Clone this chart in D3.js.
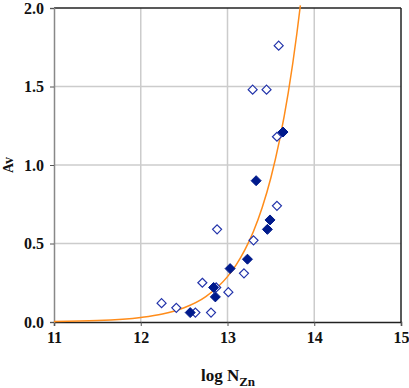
<!DOCTYPE html>
<html>
<head>
<meta charset="utf-8">
<script src="https://cdn.jsdelivr.net/npm/d3@7"></script>
<style>
  body { margin: 0; background: #fff; }
  text { font-family: "Liberation Serif", "Times New Roman", serif; }
</style>
</head>
<body>
<svg id="chart" width="409" height="388"></svg>
<script>
// open diamonds
var v_OpenX = [12.24, 12.41, 12.63, 12.81, 12.71, 12.87, 13.01, 12.88, 13.19, 13.30, 13.57, 13.29, 13.45, 13.59, 13.57];
var v_OpenY = [0.12, 0.09, 0.06, 0.06, 0.25, 0.22, 0.19, 0.59, 0.31, 0.52, 0.74, 1.48, 1.48, 1.76, 1.18];

// filled diamonds
var v_FillX = [12.57, 12.84, 12.86, 13.03, 13.23, 13.46, 13.49, 13.33, 13.64];
var v_FillY = [0.06, 0.22, 0.16, 0.34, 0.40, 0.59, 0.65, 0.90, 1.21];

// fitted curve
var v_CurveX = [11.0, 11.5, 12.0, 12.25, 12.5, 12.75, 13.0, 13.1, 13.2, 13.3, 13.4, 13.5, 13.6, 13.7, 13.8, 13.84];
var v_CurveY = [0.003, 0.009, 0.029, 0.051, 0.091, 0.162, 0.289, 0.364, 0.459, 0.578, 0.729, 0.919, 1.158, 1.459, 1.839, 2.017];

var v_XTicks = [11, 12, 13, 14, 15];
var v_YTicks = [0, 0.5, 1.0, 1.5, 2.0];

var v_SVG = d3.select("#chart");
var v_Left = 54, v_Right = 401, v_Top = 8, v_Bottom = 322;

var x = d3.scaleLinear().domain([11, 15]).range([v_Left, v_Right]);
var y = d3.scaleLinear().domain([0, 2]).range([v_Bottom, v_Top]);

// gridlines
v_SVG.append("g").selectAll("line").data(v_XTicks.slice(1, -1)).join("line")
    .attr("x1", d => x(d)).attr("x2", d => x(d))
    .attr("y1", v_Top).attr("y2", v_Bottom)
    .attr("stroke", "#cccccc").attr("stroke-width", 1.5);
v_SVG.append("g").selectAll("line").data(v_YTicks.slice(1, -1)).join("line")
    .attr("x1", v_Left).attr("x2", v_Right)
    .attr("y1", d => y(d)).attr("y2", d => y(d))
    .attr("stroke", "#cccccc").attr("stroke-width", 1.5);

// frame
v_SVG.append("line").attr("x1", v_Left).attr("x2", v_Right).attr("y1", v_Top).attr("y2", v_Top)
    .attr("stroke", "#222").attr("stroke-width", 1.5);
v_SVG.append("line").attr("x1", v_Right).attr("x2", v_Right).attr("y1", v_Top).attr("y2", v_Bottom)
    .attr("stroke", "#222").attr("stroke-width", 1.5);

// axes
var v_XAxis = v_SVG.append("g").attr("transform", "translate(0," + v_Bottom + ")")
    .call(d3.axisBottom(x).tickValues(v_XTicks).tickFormat(d3.format("d")).tickSize(4).tickPadding(6));
var v_YAxis = v_SVG.append("g").attr("transform", "translate(" + v_Left + ",0)")
    .call(d3.axisLeft(y).tickValues(v_YTicks).tickFormat(d3.format(".1f")).tickSize(4).tickPadding(6));
v_XAxis.select(".domain").attr("stroke", "#222").attr("stroke-width", 1.5);
v_YAxis.select(".domain").attr("stroke", "#888").attr("stroke-width", 1.5);
v_XAxis.selectAll(".tick line").attr("stroke", "#555");
v_YAxis.selectAll(".tick line").attr("stroke", "#555");
v_SVG.selectAll(".tick text")
    .style("font-family", "'Liberation Serif', 'Times New Roman', serif")
    .attr("font-weight", "bold").attr("font-size", 16).attr("fill", "#111");

// curve
var v_Curve = d3.range(v_CurveX.length).map(i => [v_CurveX[i], v_CurveY[i]]);
v_SVG.append("path").datum(v_Curve)
    .attr("fill", "none").attr("stroke", "#ff8c1a").attr("stroke-width", 1.5)
    .attr("d", d3.line().x(d => x(d[0])).y(d => y(d[1])).curve(d3.curveMonotoneX));

// diamonds
function diamond(cx, cy, r)
{
    return "M" + cx + "," + (cy - r) + "L" + (cx + r) + "," + cy +
           "L" + cx + "," + (cy + r) + "L" + (cx - r) + "," + cy + "Z";
}

v_SVG.append("g").selectAll("path").data(d3.range(v_OpenX.length)).join("path")
    .attr("d", i => diamond(x(v_OpenX[i]), y(v_OpenY[i]), 4.5))
    .attr("fill", "#fff").attr("stroke", "#2233aa").attr("stroke-width", 1.2);

v_SVG.append("g").selectAll("path").data(d3.range(v_FillX.length)).join("path")
    .attr("d", i => diamond(x(v_FillX[i]), y(v_FillY[i]), 5))
    .attr("fill", "#001a8c").attr("stroke", "#001a8c").attr("stroke-width", 1);

// axis titles
v_SVG.append("text")
    .attr("transform", "translate(13," + 165 + ") rotate(-90)")
    .attr("text-anchor", "middle")
    .attr("font-weight", "bold").attr("font-size", 14).attr("fill", "#111")
    .text("Av");

var v_XTitle = v_SVG.append("text")
    .attr("x", 228).attr("y", 381)
    .attr("text-anchor", "middle")
    .attr("font-weight", "bold").attr("font-size", 17).attr("fill", "#111");
v_XTitle.append("tspan").text("log N");
v_XTitle.append("tspan").attr("dy", 5).attr("font-size", 13).text("Zn");
</script>
</body>
</html>
